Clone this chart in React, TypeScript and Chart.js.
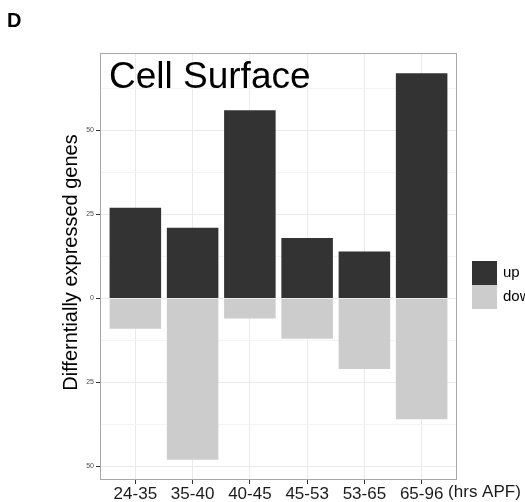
import React, { useEffect, useRef } from 'react';
import { Chart, registerables } from 'chart.js';

Chart.register(...registerables);

const categories = ['24-35', '35-40', '40-45', '45-53', '53-65', '65-96'];
const upValues = [27, 21, 56, 18, 14, 67];
const downValues = [9, 48, 6, 12, 21, 36];
const yTickValues = [-50, -37.5, -25, -12.5, 0, 12.5, 25, 37.5, 50, 62.5];
const seriesNames = ['up', 'down'];
const seriesColors = ['#333333', '#cccccc'];
const panelTitle = 'Cell Surface';
const yAxisTitle = 'Differntially expressed genes';
const xAxisUnit = '(hrs APF)';
const figureLabel = 'D';

const FONT = '"Liberation Sans", Arial, Helvetica, sans-serif';

const decorPlugin = {
  id: 'decor',
  afterDatasetsDraw(chart: any) {
    const { ctx, chartArea: a } = chart;
    ctx.save();
    // panel border
    ctx.strokeStyle = '#a8a8a8';
    ctx.lineWidth = 1;
    ctx.strokeRect(Math.round(a.left) - 0.5, Math.round(a.top) - 0.5, Math.round(a.right - a.left) + 1, Math.round(a.bottom - a.top) + 1);
    // panel title
    ctx.fillStyle = '#000000';
    ctx.font = `37px ${FONT}`;
    ctx.textAlign = 'left';
    ctx.textBaseline = 'alphabetic';
    ctx.fillText(panelTitle, a.left + 8, a.top + 34);
    ctx.restore();
  },
  afterDraw(chart: any) {
    const { ctx, chartArea: a, scales } = chart;
    ctx.save();
    // figure label
    ctx.fillStyle = '#000000';
    ctx.font = `bold 20px ${FONT}`;
    ctx.textAlign = 'left';
    ctx.textBaseline = 'alphabetic';
    ctx.fillText(figureLabel, 7, 27);
    // y axis title
    ctx.save();
    ctx.translate(71, (a.top + a.bottom) / 2 - 4);
    ctx.rotate(-Math.PI / 2);
    ctx.font = `20px ${FONT}`;
    ctx.textAlign = 'center';
    ctx.textBaseline = 'middle';
    ctx.fillStyle = '#000000';
    ctx.fillText(yAxisTitle, 0, 0);
    ctx.restore();
    // x unit label after last tick label
    const xs = scales.x;
    ctx.font = `17px ${FONT}`;
    ctx.fillStyle = '#1a1a1a';
    const lastLabel = categories[categories.length - 1];
    const lx = xs.getPixelForValue(categories.length - 1) + ctx.measureText(lastLabel).width / 2 + ctx.measureText(' ').width;
    ctx.textAlign = 'left';
    ctx.textBaseline = 'alphabetic';
    ctx.fillText(xAxisUnit, lx, 497);
    // legend
    const kx = 472;
    const ky = 261;
    const kw = 25;
    const kh = 24;
    ctx.font = `15px ${FONT}`;
    ctx.textBaseline = 'middle';
    seriesNames.forEach((name, i) => {
      ctx.fillStyle = seriesColors[i];
      ctx.fillRect(kx, ky + i * kh, kw, kh);
      ctx.fillStyle = '#000000';
      ctx.fillText(name, kx + kw + 6, ky + i * kh + kh / 2);
    });
    ctx.restore();
  },
};

export default function App() {
  const canvasRef = useRef<HTMLCanvasElement | null>(null);

  useEffect(() => {
    if (!canvasRef.current) return;
    const chart = new Chart(canvasRef.current, {
      type: 'bar',
      data: {
        datasets: [
          {
            label: seriesNames[0],
            data: upValues.map((v, i) => ({ x: i, y: v })),
            backgroundColor: seriesColors[0],
            borderWidth: 0,
            barPercentage: 0.9,
            categoryPercentage: 1,
          },
          {
            label: seriesNames[1],
            data: downValues.map((v, i) => ({ x: i, y: -v })),
            backgroundColor: seriesColors[1],
            borderWidth: 0,
            barPercentage: 0.9,
            categoryPercentage: 1,
          },
        ],
      } as any,
      options: {
        responsive: false,
        animation: false,
        devicePixelRatio: 1,
        layout: { padding: { top: 54, right: 69, left: 0, bottom: 0 } },
        plugins: { legend: { display: false }, tooltip: { enabled: false } },
        scales: {
          x: {
            type: 'linear',
            min: -0.6,
            max: 5.6,
            offset: false,
            stacked: true,
            afterBuildTicks: (s: any) => {
              s.ticks = categories.map((_, i) => ({ value: i }));
            },
            afterFit: (s: any) => {
              s.height = 23;
            },
            grid: { color: '#ebebeb', lineWidth: 1, tickColor: '#333333', tickLength: 5, drawTicks: true, offset: false },
            border: { display: false },
            ticks: {
              callback: (v: any) => categories[v] ?? '',
              font: { family: FONT, size: 17 },
              color: '#1a1a1a',
              padding: 0,
              maxRotation: 0,
              autoSkip: false,
            },
          },
          y: {
            type: 'linear',
            min: -53.75,
            max: 72.75,
            stacked: true,
            afterBuildTicks: (s: any) => {
              s.ticks = yTickValues.map((v) => ({ value: v }));
            },
            afterFit: (s: any) => {
              s.width = 101;
            },
            grid: {
              color: (c: any) => (c.tick && c.tick.value % 25 === 0 ? '#ebebeb' : '#f4f4f4'),
              lineWidth: 1,
              tickColor: (c: any) => (c.tick && c.tick.value % 25 === 0 ? '#333333' : 'rgba(0,0,0,0)'),
              tickLength: 5,
            },
            border: { display: false },
            ticks: {
              callback: (v: any) => (v % 25 === 0 ? String(Math.abs(v)) : ''),
              font: { family: FONT, size: 7 },
              color: '#4d4d4d',
              padding: 2,
              autoSkip: false,
            },
          },
        },
      } as any,
      plugins: [decorPlugin],
    });
    return () => chart.destroy();
  }, []);

  return (
    <div style={{ position: 'fixed', left: 0, top: 0, width: 525, height: 502, background: '#ffffff' }}>
      <canvas ref={canvasRef} width={525} height={502} style={{ display: 'block', width: 525, height: 502 }} />
    </div>
  );
}
